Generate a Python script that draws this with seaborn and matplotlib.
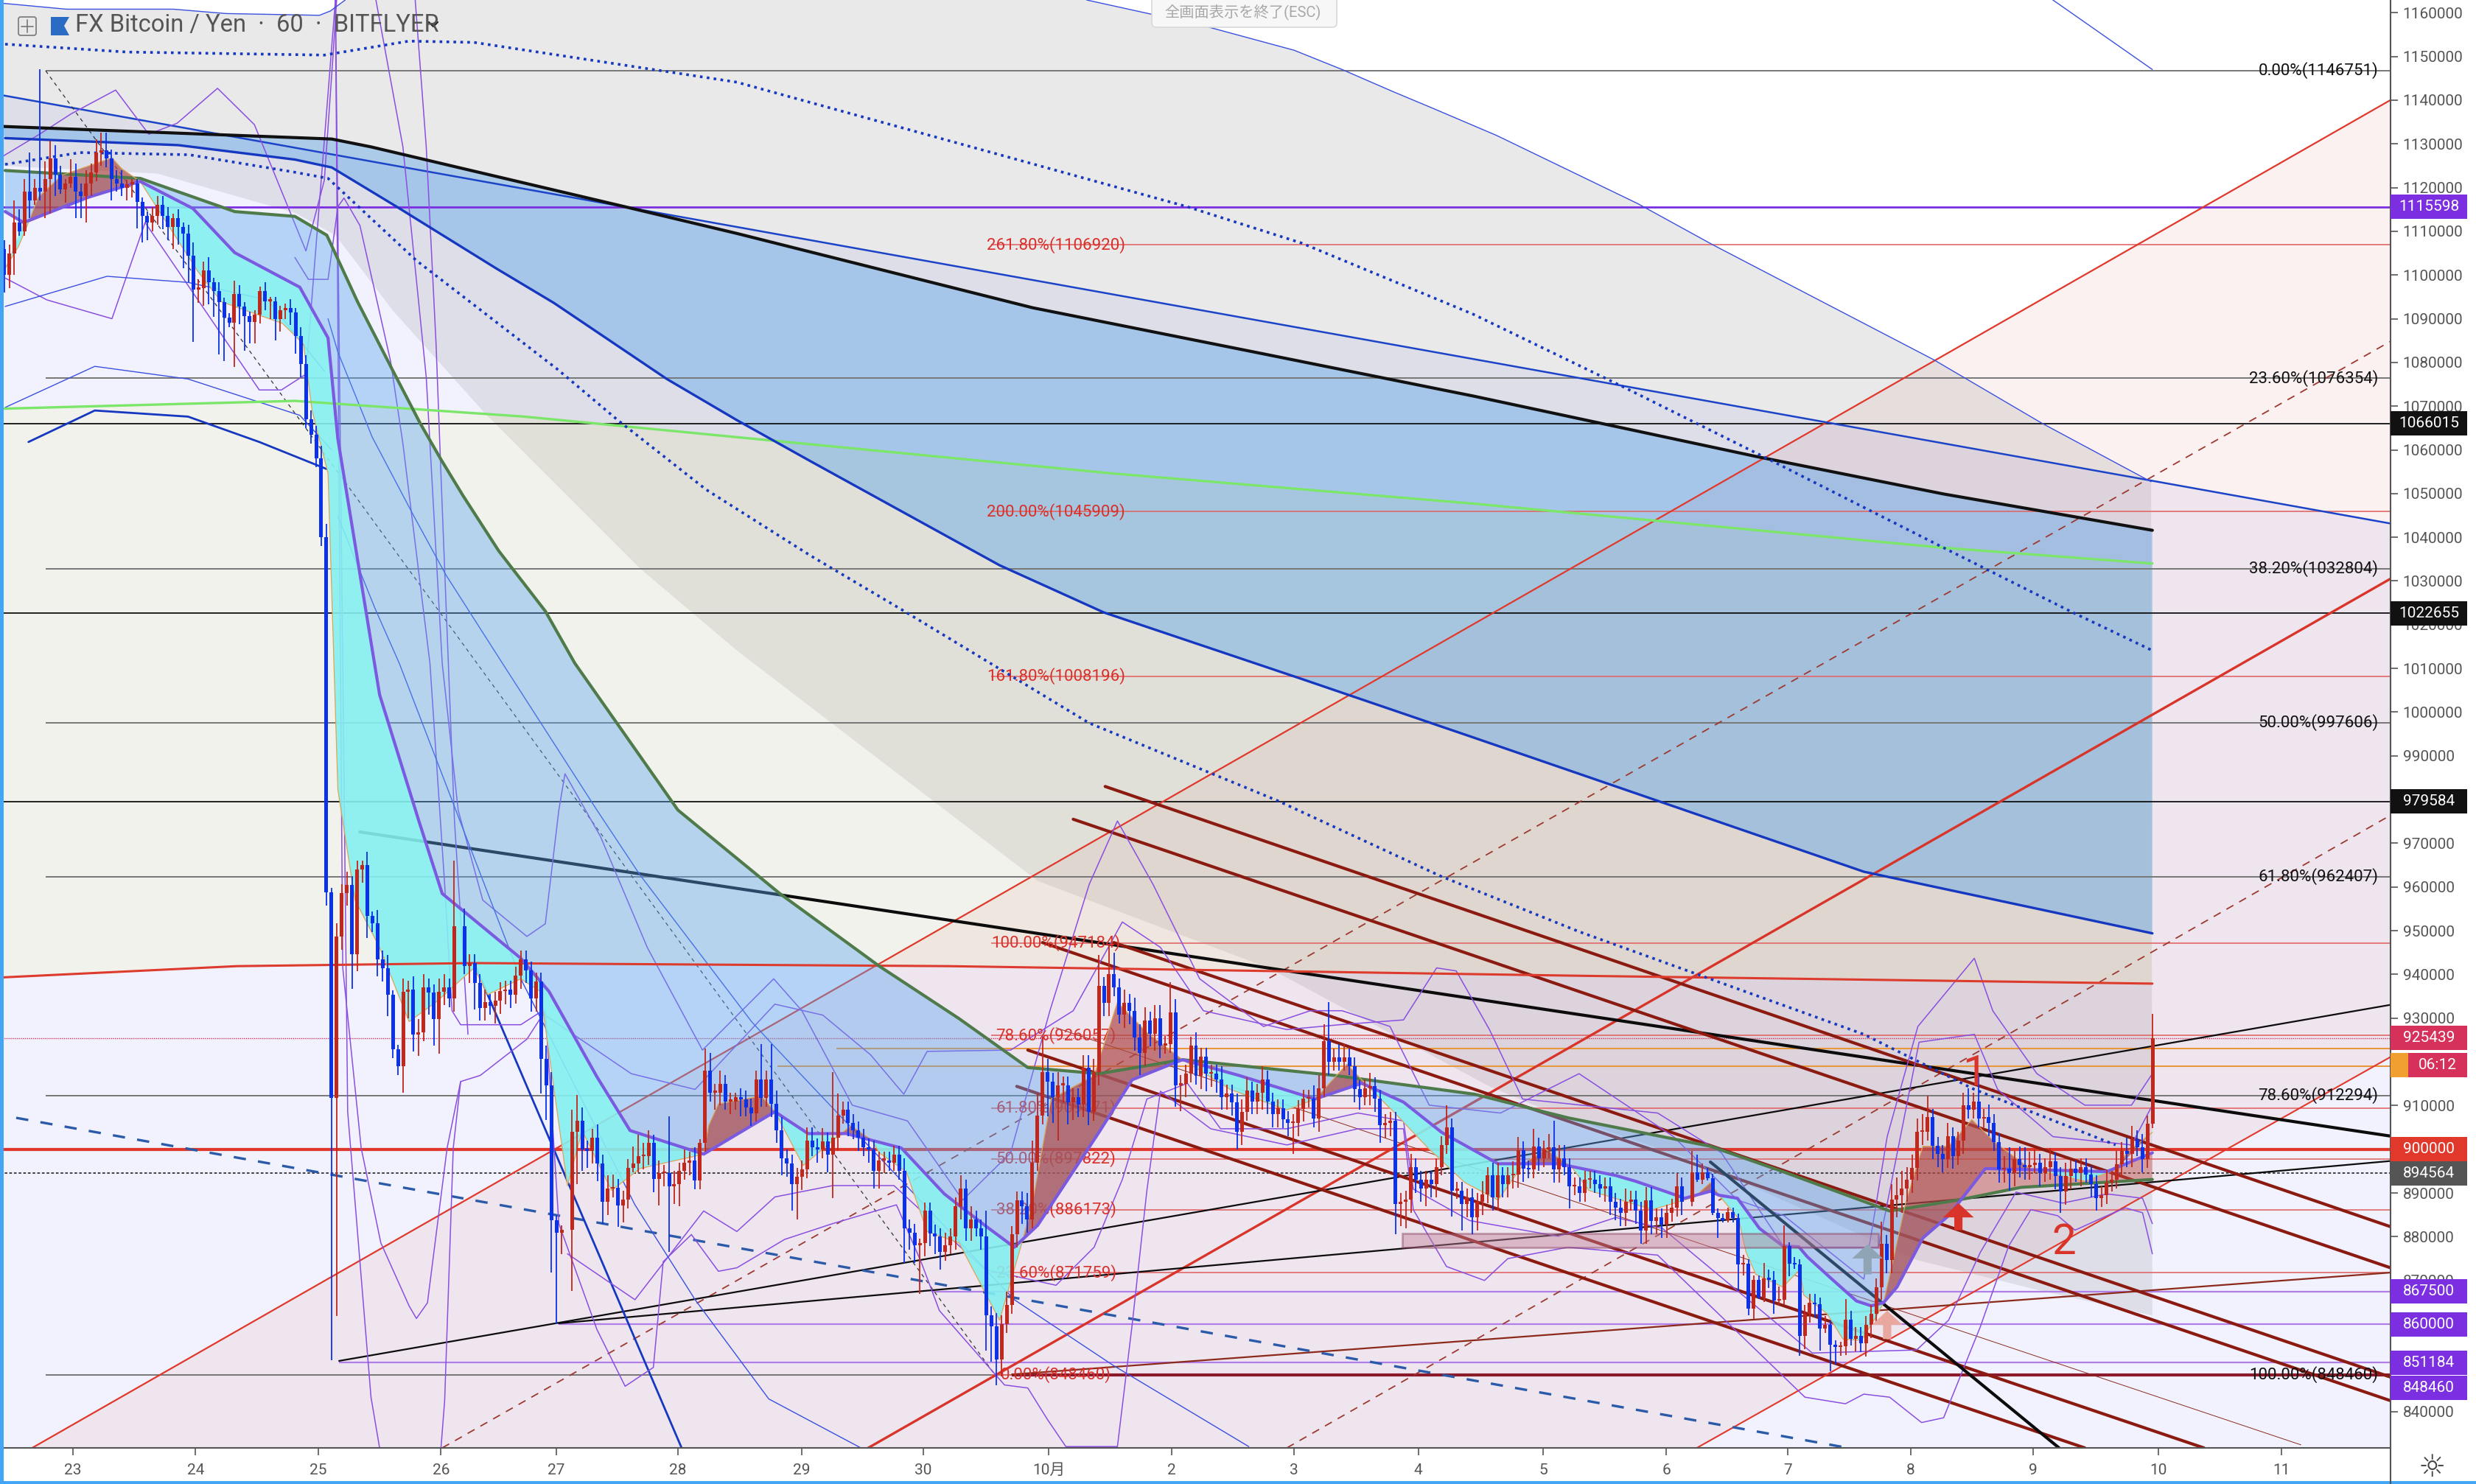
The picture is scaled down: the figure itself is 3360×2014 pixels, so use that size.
#FX Bitcoin / Yen 60 min chart
import numpy as np
import matplotlib
matplotlib.use('Agg')
import matplotlib.pyplot as plt
from matplotlib.patches import Rectangle, Polygon, FancyBboxPatch
from matplotlib.lines import Line2D
from matplotlib.transforms import blended_transform_factory
import seaborn as sns

# x is in days after the 23rd, y is in thousand yen
day_labels = ['23','24','25','26','27','28','29','30','10月','2','3','4','5','6','7','8','9','10','11']
day_ticks = [0,1,2,3,3.94,4.93,5.94,6.93,7.95,8.95,9.95,10.96,11.98,12.98,13.97,14.97,15.97,16.99,17.99]
price_ticks = list(range(840, 1161, 10))
hidden_ticks = [850, 860, 900, 920]

# candles, closes plus wick lengths
close_a1 = [1106,1100,1105,1112,1110,1119,1117,1120,1119,1122,
 1126.7,1123,1119.6,1120.9,1122.5,1119,1118,1121,1123.5,1128,
 1128.5,1126.7,1122,1121,1120,1120.8,1121,1116.7,1113.5,1112,
 1113.5,1116,1113.5,1111,1113,1111,1109.5,1104.4,1096.7,1097,
 1101,1098.3,1096.4,1093.8,1090.3,1089,1095.7,1092.8,1090.6,1089.3,
 1090.9,1096.4,1094,1094,1090,1092,1092.5,1091.5,1086,1079.6,
 1067,1063.5,1058,1040,958.8,911.8,948.7,958.7,960.5,944.7,
 964,965,953.4,951.7,943.5,941.4,935.4,922.9,919,936,
 936.6,926.3,926.8,937,935.8,929.8,936,937,934.5,951]
up_a1 = [2,2,2,5,3,3,9,2,27,4,
 4,3,2,1,4,3,2,3,2,3,
 4,4,2,2,3,1,1,1,1,1,
 2,2,2,2,1,2,1,2,3,2,
 2,3,1,2,1,1,3,2,1,1,
 1,1,2,1,1,1,1,2,1,2,
 2,2,2,3,3,1,3,2,3,2,
 2,1,3,1,3,2,3,1,1,3,
 2,3,3,3,2,2,3,3,2,15]
dn_a1 = [4,4,3,5,1,1,4,1,2,6,
 8,5,1,3,1,6,5,6,3,2,
 3,2,5,2,2,3,3,6,6,4,
 2,2,3,3,5,4,8,6,12,3,
 4,5,6,12,10,1,10,4,8,5,
 5,2,2,4,5,3,2,3,4,3,
 2,2,2,2,3,60,50,3,3,8,
 4,3,5,2,4,3,5,2,2,6,
 6,4,5,2,5,6,8,3,2,3]

close_a2 = [942,942.6,938,932.4,933.6,932.8,934,936.2,936.6,935.4,
 939.7,943.5,941,934.5,938.4,920.7,914.7,883.8,881,881.6]
up_a2 = [4,2,2,2,3,2,2,2,2,2,2,2,2,2,2,2,3,3,1,1]
dn_a2 = [2,4,6,3,3,2,4,3,3,3,2,3,3,3,3,8,8,12,21,5]

close_a3 = [904,906.5,900,899.7,902.7,896.7,888,891,891.2,887.2,
 888.5,895.8,896.7,898.4,898.4,901.4,893.2,894.5,894.5,891.5,
 892,895,897,897.5,892.8,901.4,918,913,913,915,
 911,911,912,911.5,909.6,908.3,916,911.7,916,910.4,
 904.4,898,896.7,892,893.7,895.4,902,900.5,900,901.8,
 898.8,902.7,907.8,909,906,904.4,902.7,900.5,900,895,
 897.5,897.5,897,898.8,895,882,881,878,878.5,885.9,
 880.8,880,876.5,878,880,887]
up_a3 = [5,6,3,2,2,3,2,3,3,2,
 2,2,4,5,3,3,2,3,2,13,
 3,2,3,2,3,1,5,4,2,3,
 2,2,1,2,2,2,2,8,2,8,
 3,3,2,2,2,2,3,3,2,3,
 2,15,5,2,2,2,2,2,2,2,
 2,2,2,2,2,3,2,2,1,2,
 2,2,2,3,2,2]
dn_a3 = [14,12,5,4,3,4,5,3,2,5,
 4,2,1,2,3,2,3,6,3,15,
 4,5,2,3,2,2,2,2,4,3,
 2,3,2,4,2,3,2,2,2,3,
 3,4,3,6,8,3,2,2,3,2,
 4,10,3,2,3,2,3,2,3,4,
 4,3,2,2,2,8,4,4,11,3,
 3,4,4,2,2,3]

close_b = [891,882,884,882,880,862,859.5,852,860,864.4,
 880.5,888.4,887,884,897,907.7,917.7,915.5,912,914.7,
 914.7,910.7,912,910.3,918.6,908.5,917.7,937.4,933.5,940,
 937,930.8,933.5,931.7,925.6,922,929.5,926.5,930,923.8,
 924,931.3,914.7,915,917.3,923.8,916.8,921.2,917.3,917.3,
 916,912,912.8,910.7,904,908.5,913.4,911,913,916,
 911,908,909.4,906.8,906,906,909.3,911.6,911.6,907,
 914,924.7,920,921,920,921,919,913.8,912,914,
 914.5,911.6,905.5,906,906.5,887.5,888,888.5,896,893,
 891,893,892,896,901,905,890.6,890.6,887.5,889,
 884.5,888,889.7,894,889,894,892,894,894.2,899.8,
 895.5,895.4,900.7,898,900,900.5,895.4,898,896,891.5,
 891.5,890,893,893,892,891,891.5,888,886.7,885.5,
 888,888.5,886,881.4,888.4,883.6,884.5,882.7,885.4,886.7,
 891.5,888]
up_b = [3,2,3,2,2,6,2,3,2,3,
 2,2,2,3,5,5,8,3,2,3,
 2,2,2,2,3,3,3,7,2,7,
 5,2,3,2,3,3,3,2,3,3,
 2,7,3,2,2,2,3,2,2,2,
 2,3,2,2,2,3,3,2,2,3,
 2,2,2,2,2,2,2,2,2,3,
 3,4,9,2,3,3,2,2,2,2,
 3,2,2,2,2,2,2,2,3,2,
 2,2,2,2,2,5,2,2,2,2,
 2,2,3,2,3,3,2,2,3,3,
 2,2,4,2,2,3,6,3,3,2,
 2,2,2,2,2,2,2,2,2,2,
 3,2,2,2,3,3,2,2,2,2,
 3,2]
dn_b = [3,3,3,2,3,8,8,6,4,2,
 2,3,4,3,2,2,2,8,6,10,
 4,5,4,3,3,3,2,3,3,3,
 2,2,3,3,3,5,3,3,4,3,
 2,2,5,6,3,2,2,3,4,3,
 3,3,3,3,4,3,2,3,3,4,
 3,3,3,2,3,7,3,3,2,2,
 3,2,3,2,2,2,2,3,3,2,
 4,3,4,3,3,7,5,6,3,3,
 3,4,3,3,2,2,6,2,6,3,
 4,3,3,2,3,3,3,3,3,3,
 3,2,2,3,2,2,3,3,2,5,
 2,2,2,2,2,2,3,3,3,3,
 3,2,3,3,3,3,3,3,3,2,
 2,3]

close_c = [894.7,893,894.7,893.4,885.4,884.3,883.7,885.7,884.3,873.6,873.8,863.5,870.2,866,870.5]
up_c = [5,4,2,1,1,1,1,1,1,1,2,1,1,1,3.5]
dn_c = [1,0.5,1,0.5,0.5,4.5,0.5,0.5,1,6,2.4,1.5,2.3,0.3,1]

close_d = [870.2,865.4,865.6,877.8,873.9,873.6,857.3,862.4,864.9,864.5,
 859,859.8,855.3,854.8,855,861,856.7,857.3,855.6,859.8,
 862.4,868.5,878.4,874.7,888.5,889.5,891,893,895.8,904,
 904,907.3,900.8,899,897.7,903,898.5,902,910,909,
 911,907,907.3,906,901.6,895.4,895.5,894.5,897.7,896.5,
 896,896.5,897,894.6,896,897.3,893.9,890.4,893.9,895.5,
 894.6,896,894.3,892,888.9,889.5,892.3,893,896.6,899.7,
 899,902.3,900.5,897.7,905.8,925.4]
up_d = [2,2,3,4.8,1,1.5,1.3,2,2,2,
 1.5,2,1,1,1,4.7,2,2,2,2,
 2,2,5,2,3.5,4,4,3,3,3,
 4,5,2,2,2,3,2,2,3,4,
 2,6,2,3,2,2,3,5,2,3,
 4,3,3,2,2,3,2,2,3,2,
 2,2,2,2,2,2,3,2,3,2,
 3,3,2,3,2,5.5]
dn_d = [2,3,1,1,3,1,4.5,3,2,3,
 5,1,6,4,2,2,1.5,3,2,3,
 3,2,3,3,3,4,4,3,3,3,
 3,2,3,3,3,2,3,2,3,2,
 2,2,2,3,2,3,3,4,3,3,
 3,3,2,3,2,3,3,5,3,3,
 2,3,2,3,3,2,2,2,2,3,
 3,3,2,3,2,1]
chunk_start = [0, 91, 112, 188, 331, 346]

# moving averages
black_x = [-0.59,2.11,2.43,4.5,5.41,7.82,9.62,11.41,13.71,15.24,16.94]
black_y = [1134,1131.1,1129.3,1115.6,1109.5,1092.5,1082.4,1072.3,1058.5,1049.9,1041.6]
blue_x = [-0.55,0.86,1.81,2.11,2.64,3.45,3.92,4.84,5.41,6.01,7.55,8.4,10.01,11.41,14.59,16.94]
blue_y = [1131.3,1129.7,1126.4,1124.6,1115.6,1101.5,1093.6,1076.2,1066.8,1057.4,1033.6,1022.8,1007.6,994.2,963.5,949.4]
lime_x = [-0.59,1.81,3.68,5.41,8.47,11.41,15.24,16.94]
lime_y = [1069.4,1071.2,1067.6,1062.9,1054.6,1047.7,1037.6,1034]
redma_x = [-0.59,1.34,3.27,7.13,12.27,16.94]
redma_y = [939.3,941.9,942.6,941.9,939.7,937.9]
dot_top_x = [-0.55,0.44,2.05,2.74,3.27,5.41,7.32,9.08,10.01,11.41,12.63,13.79,15.24,16.27,16.94]
dot_top_y = [1152.8,1151,1150.3,1153.5,1153.2,1144.1,1129.3,1115.6,1107.3,1091,1074.4,1058.2,1037.6,1023.1,1014.1]
dot_low_x = [-0.55,0.06,0.95,1.81,2.08,2.8,3.95,4.44,5.16,6.01,6.75,8.28,9.81,11.15,12.27,14.59,15.49,16.64]
dot_low_y = [1125.3,1128,1127.5,1123.5,1122.1,1103.3,1078.4,1066.8,1050.9,1035.8,1023.5,997.5,979.8,962.4,949.8,926.3,913.7,901]
green_x = [-0.55,0.55,1.32,1.81,2.07,2.32,2.61,2.83,3,3.18,3.47,3.85,4.09,4.93,5.76,6.57,7.22,7.78,8.36,9.04,10.28,11.42,12.18,13.34,13.93,14.8,15.36,15.87,16.94]
green_y = [1123.9,1122.1,1114.5,1113.4,1109.1,1093.9,1078,1066.1,1057.8,1049.5,1036.9,1023.1,1011.2,977.6,958.5,941.9,929.9,918.7,917.3,920.5,916.9,912.6,907.2,900.7,894.9,885.9,888.4,891.3,893.1]
slow_x = [-0.55,-0.4,0.13,0.55,0.98,1.32,1.85,2.08,2.16,2.5,2.82,3.01,3.65,3.88,4.27,4.54,5.14,5.72,5.99,6.3,6.75,7.1,7.43,7.67,7.86,8.36,8.63,9.04,9.5,10.12,10.5,10.84,11.15,11.61,12.1,12.57,12.73,12.99,13.13,13.34,13.41,13.56,13.74,13.93,14.06,14.13,14.33,14.53,14.65,14.75,14.86,15.07,15.28,15.58,16.01,16.57,16.94]
slow_y = [1114.5,1112,1117.8,1121.4,1115.2,1105.1,1097.2,1085.6,1062.5,1004,975.1,958.5,943.7,936.1,916.6,904.3,898.9,908.6,903.6,903.6,900.3,889.8,882.6,877.6,882.6,903.9,915.9,920.5,916.9,911.5,915.1,910.8,903.9,896.7,896.7,894,892.7,890.2,888.8,890.4,889.5,888.8,881.9,877.9,877.7,875.4,870.3,865.3,864.2,864.9,868.5,879.7,884.8,895.6,895.3,894.9,899.2]
fast_x = [-0.55,-0.44,-0.36,-0.28,-0.09,0.32,0.4,0.55,1.02,1.21,1.71,1.88,1.95,2.08,2.16,2.3,2.5,2.74,2.97,3.27,3.38,3.65,3.81,4.03,4.15,4.39,4.62,5.14,5.18,5.26,5.61,5.72,5.95,6.23,6.34,6.51,6.57,6.79,6.96,7.22,7.55,7.74,7.82,7.97,8.32,8.51,8.75,9.04,9.43,9.89,10.12,10.38,10.55,10.77,11.04,11.34,11.61,11.82,12,12.21,12.35,12.87,13.21,13.34,13.41,13.57,13.63,13.71,13.93,14.07,14.1,14.29,14.42,14.57,14.69,14.75,14.82,14.93,15.07,15.28,15.47,15.65,15.94,16.39,16.64,16.73,16.94]
fast_y = [1101.5,1106.6,1112,1117.8,1122.8,1126.8,1124.3,1121.4,1100.8,1093.9,1088.9,1084.2,1069,1054.6,982.3,957,946.2,929.2,933.9,941.5,935.4,939,936.1,891.7,904.3,890.6,895.6,898.9,905.4,910.4,912.2,908.6,896.3,902.9,905.4,902.1,899.2,894.9,881.2,878.6,860.9,879.4,888,911.5,916.9,933.6,926.7,920.5,913.7,909,911.5,919.5,914.4,908.3,900.3,892.4,888.4,896.7,900,896,890.6,886.2,889.1,892.4,889.5,884.1,876.5,871.4,868.5,872.5,866.7,862.4,856.6,856.3,861.7,864.9,873.6,887.7,900.7,900.7,906.8,901.8,895.6,892.7,895.3,899.2,903.9]
fast_cross = [-0.55,-0.36,0.55,5.14,5.72,6.23,6.51,7.74,9.04,10.12,10.55,11.82,12.21,13.21,13.41,14.75,15.94,16.64,16.94]
ribbon_cross = 15.36

# bollinger style thin curves
bb_a_x = [-0.59,-0.27,-0.01,0.35,0.62,0.85,1.18,1.48,1.9,2.05,2.12,2.15]
bb_a_y = [1126.8,1132.2,1136.9,1142.3,1132.2,1134.7,1142.7,1134.4,1105.5,1121.7,1149.9,1162.9]
bb_b_x = [2.47,2.69,2.88,3.01,3.14,3.34,3.7,3.85,3.96,4.01,4.3,4.68,5.13,5.71,5.94,6.35,6.8,7.25,7.64,7.96,8.28,8.51,8.8,9.18,9.7,10.08,10.34,10.73,11.05,11.63,12.27,13.04,13.56,13.94,14.59,14.78,15.03,15.49,15.64,16,16.39,16.77,16.94]
bb_b_y = [1162.9,1129.3,1076.6,1011.2,977.6,957,948.7,951.6,977.6,985.9,971.5,946.2,922.7,939,931.7,910.1,906.5,888.4,899.2,931.7,960.6,975.1,960.6,939,928.1,931.7,931.7,928.1,910.1,908.3,917.3,902.9,888.4,884.8,870.3,902.9,928.1,943.7,931.7,917.3,910.1,910.1,917.3]
bb_c_x = [1.81,1.92,2.08,2.16,2.21,2.34,2.48,2.59,2.69,2.91,3.03,3.09,3.16,3.65,3.81,4.55,5.07,5.72,6.11,6.5,6.77,6.96,7.64,8.15,8.55,8.86,9.21,9.89,10.32,10.84,11.11,11.27,11.54,11.81,12.91,13.43,13.94,14.71,15.04,15.49,15.68,16.13,16.77,16.94]
bb_c_y = [1104,1099,1099,1115.6,1117.6,1111.3,1093.9,1080.2,1061.4,1011.2,960.6,931.7,928.5,928.5,931.4,917.3,913.7,933.2,930.7,921.6,912.6,922.4,922.7,931.7,952,946.2,931.7,927.4,928.5,929.6,941.5,940.8,927.4,911.5,908.3,899.2,877.6,877.6,924.5,926.3,913.7,902.9,901,910.1]
bb_d_x = [4.03,4.58,5.14,5.41,5.72,6.19,6.69,7.43,8.01,8.32,8.55,8.75,9.08,9.35,9.89,10.47,10.84,10.92,11.38,12.1,12.57,12.95,14.17,15.02,15.28,15.54,15.83,16.21,16.57,16.86,16.94]
bb_d_y = [876.1,865.6,885.9,881.2,889.1,891.7,891.7,872.5,868.9,877.6,893.1,911.5,915.1,904.7,904.7,908.3,906.5,890.9,883.7,880.1,884.4,881.9,853.4,854.1,860.9,876.5,890.2,887.7,889.8,888.8,883]
bb_e_x = [2.14,2.2,2.35,2.51,2.74,2.8,2.89,3.05,3.16,3.32,3.7,3.85,3.96,4.27,4.5,4.73,4.81,5.04,5.26,5.41,5.8,6.19,6.71,6.91,7.06,7.59,7.78,7.94,8.09,8.51,8.63,8.75,8.86,9.27,9.89,10.47,10.84,10.92,11.19,11.5,11.69,12.18,12.91,14.11,14.44,14.59,14.8,15.06,15.24,15.54,15.77,15.95,16.17,16.31,16.57,16.72,16.86,16.94]
bb_e_y = [1162.9,941.5,900.3,878.6,864.2,861.3,864.9,900.3,915.5,916.9,925.2,931.7,883,858.8,845.8,850.1,874.3,880.5,872.1,872.9,879.4,883,887.3,874.3,863.1,846.1,845.4,838.2,832,832,859.9,890.6,913.3,904.7,901,904.7,904.7,886.2,873.2,870,875,877.6,875.8,843.3,841.8,844,843.3,837.5,838.6,859.5,877.9,886.2,884.8,881.5,884.8,886.6,885.5,876.1]
bb_f_x = [-0.55,-0.21,0.32,0.59,1.02,1.52,1.7,1.9,2.14]
bb_f_y = [1099.3,1094.3,1090,1112,1094.3,1073.7,1073.7,1077.3,1162.9]
bb_h_x = [2.79,2.88,2.96,3,3.06,3.11,3.22]
bb_h_y = [1162.9,1129.3,1084.2,1054.2,1011.2,975.1,926.3]
bb_i_x = [3,3.03,3.1,3.16]
bb_i_y = [831.7,842.5,900.3,915.5]
bb_j_x = [2.14,2.24,2.43,2.5]
bb_j_y = [1162.9,908.6,843.3,831.7]
thin_a_x = [-0.55,0.28,0.94,1.59,2.05]
thin_a_y = [1092.8,1099.7,1098.3,1094.3,1078]
thin_b_x = [-0.55,0.18,0.94,1.85,2.11]
thin_b_y = [1069.7,1079.1,1076.2,1067.9,1060]
thick_c_x = [-0.36,0.18,0.94,1.52,2.07]
thick_c_y = [1061.8,1069,1067.6,1061.8,1055.6]
thin_d_x = [2.08,2.16,2.44,2.78,3.04,3.5,4.27,4.62,5.53,5.72,7.67,8.48,9.58]
thin_d_y = [1090,1082.4,1062.9,1044.8,1031.4,1011.2,977.6,962.8,929.2,923.4,865.6,850.5,832]
thin_e_x = [2.16,2.46,2.66,3.65,4.58,5.07,5.67,6.42]
thin_e_y = [1044.8,1023.9,1011.2,939,887.3,865.6,842.9,831.7]
thin_f_x = [16.13,16.94]
thin_f_y = [1162.9,1147]

# shaded gray area, its top edge is the thin blue curve
gray_top_lx = [-0.59,-0.05,0.82,1.25,2.01,2.1,2.22]
gray_top_ly = [1162.2,1160.8,1160.8,1159.8,1159.4,1160.4,1162.9]
gray_top_rx = [8.26,9.2,9.95,10.34,10.75,11.09,11.6,12.75,13.36,15.16,16.04,16.93]
gray_top_ry = [1162.9,1157.1,1151.4,1147,1142,1138,1131.9,1116.3,1106.9,1080.6,1066.1,1052.7]
gray_low_x = [16.94,16.01,15.02,13.21,12,11.54,9.74,7.86,5.41,4.62,3.36,2.61,2.14,1.81,0.69,-0.59]
gray_low_y = [862,867.8,874.7,897.4,909,914.4,941.5,961.4,1014.1,1032.9,1068.3,1091.8,1109.1,1114.2,1123.2,1125]

# straight lines as (x0, y0, x1, y1)
fork_top = (-0.33, 831.7, 18.91, 1140.5)
fork_mid = (6.48, 831.7, 18.91, 1031)
fork_low = (13.23, 831.7, 18.91, 921.6)
fork_dash_a = (3.01, 831.7, 18.91, 1085.3)
fork_dash_b = (9.89, 831.7, 18.91, 976.9)
blue_trend = (-0.59, 1141.2, 18.91, 1043)
black_trend = (2.34, 972.6, 18.91, 902.9)
black_thin_a = (2.17, 851.6, 18.91, 933.2)
black_thin_b = (3.96, 860.2, 18.91, 897.4)
black_short = (13.34, 897.1, 16.18, 831.7)
brown_rise = (7.65, 848.5, 18.88, 871.8)
brown_thin = (8.01, 927.8, 18.15, 832.4)
channels = [(8.41,983,18.88,882.3),(8.15,975.5,18.88,872.9),(8.48,947.3,18.88,847.9),
            (7.9,947.3,18.88,842.5),(7.78,922.7,17.36,831.7),(7.69,914.4,16.39,831.7)]
blue_dash = (-0.46, 907.2, 14.46, 831.7)
fib_dash = (-0.22, 1146.7, 7.51, 848.5)
blue_fall = (3.27, 942.6, 4.96, 831.7)

# levels
fib_black = [1146.751,1076.354,1032.804,997.606,962.407,912.294,848.46]
fib_black_txt = ['0.00%(1146751)','23.60%(1076354)','38.20%(1032804)','50.00%(997606)','61.80%(962407)','78.60%(912294)','100.00%(848460)']
fib_red = [1106.92,1045.909,1008.196,947.184,926.057,909.471,897.822,886.173,871.759,848.46]
fib_red_txt = ['261.80%(1106920)','200.00%(1045909)','161.80%(1008196)','100.00%(947184)','78.60%(926057)','61.80%(909471)','50.00%(897822)','38.20%(886173)','23.60%(871759)','0.00%(848460)']
black_levels = [1066.015,1022.655,979.584]
purple_levels = [867.5,860,851.184]
purple_starts = [7.0,3.96,2.17]
orange_levels = [923.1,919]
orange_starts = [6.22,5.74]
badge_vals = [1115.598,1066.015,1022.655,979.584,900,894.564,867.5,860,851.184,845.5]
badge_cols = ['#7b2fe0','#111111','#111111','#111111','#e0392b','#555555','#7b2fe0','#7b2fe0','#7b2fe0','#7b2fe0']
badge_txt = ['1115598','1066015','1022655','979584','900000','894564','867500','860000','851184','848460']

XMIN, XMAX = -0.592, 18.88
YMIN, YMAX = 831.7, 1162.9

sns.set_theme(style='white')
plt.rcParams['font.family'] = ['Roboto', 'Noto Sans CJK JP', 'DejaVu Sans']

fig = plt.figure(figsize=(33.6, 20.14), dpi=100, facecolor='white')
ax = fig.add_axes([0, 49/2014, 3244/3360, 1965/2014])
ax.set_facecolor('#f2f2fe')


def line(xs, ys, color, lw, z=2, **kw):
    sns.lineplot(x=xs, y=ys, ax=ax, color=color, linewidth=lw, estimator=None,
                 sort=False, zorder=z, legend=False, **kw)


def seg(s, color, lw, z=2, **kw):
    line([s[0], s[2]], [s[1], s[3]], color, lw, z, **kw)


def poly(xs, ys, color, alpha, z):
    ax.fill(xs, ys, color=color, alpha=alpha, lw=0, zorder=z)


# backgrounds, white above the blue trend line
poly([blue_trend[0], blue_trend[2], blue_trend[2], blue_trend[0]],
     [blue_trend[1], blue_trend[3], YMAX, YMAX], 'white', 1, 1)
poly([fork_top[0], fork_top[2], fork_low[2], fork_low[0]],
     [fork_top[1], fork_top[3], fork_low[3], fork_low[1]], '#de7a72', 0.1, 1.1)
poly(np.r_[gray_top_lx, gray_top_rx, gray_low_x], np.r_[gray_top_ly, gray_top_ry, gray_low_y], '#808080', 0.17, 1.2)
poly(np.r_[lime_x, redma_x[::-1]], np.r_[lime_y, redma_y[::-1]], '#faf25e', 0.1, 1.3)
poly(np.r_[black_x, blue_x[::-1]], np.r_[black_y, blue_y[::-1]], '#50a0eb', 0.4, 1.4)

# horizontal levels
ax.hlines(fib_black, -0.22, XMAX, color='#777777', lw=1.4, zorder=1.8)
ax.hlines(fib_red, 7.48, XMAX, color='#e06868', lw=1.2, zorder=1.8)
ax.hlines(black_levels, XMIN, XMAX, color='#111111', lw=1.3, zorder=1.9)
ax.hlines(1115.598, XMIN, XMAX, color='#7b2fe0', lw=2, zorder=1.9)
for lv, st in zip(purple_levels, purple_starts):
    ax.hlines(lv, st, XMAX, color='#b07ee8', lw=1.6, zorder=1.9)
for lv, st in zip(orange_levels, orange_starts):
    ax.hlines(lv, st, XMAX, color='#e8973a', lw=1.5, zorder=1.9)
ax.hlines(925.439, XMIN, XMAX, color='#d6315a', lw=1, linestyles=(0, (1, 1)), zorder=1.9)
ax.hlines(894.564, XMIN, XMAX, color='#333333', lw=1.3, linestyles=(0, (2, 1.5)), zorder=1.9)
ax.hlines(900, XMIN, XMAX, color='#e0392b', lw=3, zorder=2)
ax.hlines(848.46, 7.65, XMAX, color='#8b1a2a', lw=3, zorder=2)

# straight lines
seg(fork_top, '#e0392b', 1.6)
seg(fork_mid, '#d9342a', 2.4)
seg(fork_low, '#e0392b', 1.5)
seg(fork_dash_a, '#9c3a30', 1.3, linestyle=(0, (6, 5)))
seg(fork_dash_b, '#9c3a30', 1.3, linestyle=(0, (6, 5)))
seg(blue_trend, '#1b44c8', 1.8)
seg(black_trend, '#0c0c0c', 3)
seg(black_thin_a, '#0c0c0c', 1.6)
seg(black_thin_b, '#0c0c0c', 1.6)
seg(black_short, '#0c0c0c', 3, 2.4)
seg(brown_rise, '#8b2a1a', 1.6)
seg(brown_thin, '#8b2a1a', 0.7)
for c in channels:
    seg(c, '#8b1a10', 3)
seg(blue_dash, '#2a5aa8', 2.4, linestyle=(0, (5, 5)))
seg(fib_dash, '#333333', 0.9, linestyle=(0, (4, 4)))
seg(blue_fall, '#1638c0', 2)

# thin curves
for xs, ys in [(bb_a_x, bb_a_y), (bb_b_x, bb_b_y), (bb_c_x, bb_c_y), (bb_d_x, bb_d_y),
               (bb_e_x, bb_e_y), (bb_f_x, bb_f_y), (bb_h_x, bb_h_y), (bb_i_x, bb_i_y), (bb_j_x, bb_j_y)]:
    line(xs, ys, '#8a4fe0', 1.1, 2.2)
for xs, ys in [(thin_a_x, thin_a_y), (thin_b_x, thin_b_y), (thin_d_x, thin_d_y), (thin_e_x, thin_e_y),
               (thin_f_x, thin_f_y), (gray_top_lx, gray_top_ly), (gray_top_rx, gray_top_ry)]:
    line(xs, ys, '#3a50e0', 1, 2.2)
line(thick_c_x, thick_c_y, '#1638c0', 2, 2.2)

# red fib labels stay under the ribbons
for lv, t in zip(fib_red, fib_red_txt):
    ax.text(8.01, lv, t, color='#d8302a', fontsize=16, ha='center', va='center', zorder=2.5)

# ribbons
sx, sy = np.array(slow_x), np.array(slow_y)
gx, gy = np.array(green_x), np.array(green_y)
fx, fy = np.array(fast_x), np.array(fast_y)
m = sx <= ribbon_cross
n = gx <= ribbon_cross
poly(np.r_[sx[m], gx[n][::-1]], np.r_[sy[m], gy[n][::-1]], '#5aa5ee', 0.4, 3)
m = sx > ribbon_cross
n = gx >= ribbon_cross
poly(np.r_[sx[m], gx[n][::-1]], np.r_[sy[m], gy[n][::-1]], '#c8504a', 0.4, 3)
for k in range(len(fast_cross) - 1):
    a, b = fast_cross[k], fast_cross[k + 1]
    m = (fx >= a) & (fx <= b)
    n = (sx > a) & (sx < b)
    if k % 2 == 0:
        poly(np.r_[fx[m], sx[n][::-1]], np.r_[fy[m], sy[n][::-1]], '#84f0f0', 0.9, 3.1)
    else:
        poly(np.r_[fx[m], sx[n][::-1]], np.r_[fy[m], sy[n][::-1]], '#b04a48', 0.7, 3.1)

# moving average lines
line(lime_x, lime_y, '#7be66a', 2.4, 3.2)
line(redma_x, redma_y, '#dd3b2d', 2.2, 3.2)
line(black_x, black_y, '#111111', 3, 3.2)
line(blue_x, blue_y, '#1638c0', 2.4, 3.2)
for xs, ys in [(dot_top_x, dot_top_y), (dot_low_x, dot_low_y)]:
    line(xs, ys, '#1638c0', 2.6, 3.2, linestyle=(0, (1, 1.6)))
line(green_x, green_y, '#4f7a4a', 3, 3.2)
line(fast_x, fast_y, '#d9a65a', 0.9, 3.2)
line(slow_x, slow_y, '#7a5ae0', 3, 3.3)

# candles
closes = [close_a1, close_a2, close_a3, close_b, close_c, close_d]
ups = [up_a1, up_a2, up_a3, up_b, up_c, up_d]
dns = [dn_a1, dn_a2, dn_a3, dn_b, dn_c, dn_d]
bars = np.concatenate([st + np.arange(len(c)) for st, c in zip(chunk_start, closes)])
c_all = np.concatenate(closes)
u_all = np.concatenate(ups)
d_all = np.concatenate(dns)
o_all = np.r_[1104, c_all[:-1]]
x_all = (bars - 14.4) / 24
top = np.maximum(o_all, c_all)
bot = np.minimum(o_all, c_all)
rising = c_all >= o_all
for mask, col in [(rising, '#c0271d'), (~rising, '#0b32e8')]:
    ax.vlines(x_all[mask], bot[mask] - d_all[mask], top[mask] + u_all[mask], color=col, lw=1.3, zorder=4)
    ax.bar(x_all[mask], np.maximum(top[mask] - bot[mask], 0.4), bottom=bot[mask], width=0.03,
           color=col, linewidth=0, zorder=4.1)

# zone box and marks
ax.add_patch(Rectangle((10.83, 877.6), 3.88, 3.2, fc='#c08098', ec='#8a4060', alpha=0.45, lw=2, zorder=3.5))
for x0, y0, y1, col in [(15.36, 881.5, 887.7, '#d9342a'), (14.62, 871.4, 878.3, '#8fa5b5'), (14.78, 856.6, 863.1, '#e8a8a0')]:
    ax.annotate('', xy=(x0, y1), xytext=(x0, y0), zorder=5,
                arrowprops=dict(width=8, headwidth=30, headlength=14, color=col, lw=0, shrink=0))
ax.text(15.49, 917.3, '1', color='#d9342a', fontsize=42, ha='center', va='center', zorder=5)
ax.text(16.22, 878.6, '2', color='#d9342a', fontsize=42, ha='center', va='center', zorder=5)

# black fib labels
for lv, t in zip(fib_black, fib_black_txt):
    ax.text(18.78, lv, t, color='#111111', fontsize=16, ha='right', va='center', zorder=6)

# axes
ax.set_xlim(XMIN, XMAX)
ax.set_ylim(YMIN, YMAX)
ax.set_xlabel('')
ax.set_ylabel('')
ax.yaxis.tick_right()
ax.set_yticks(price_ticks)
ax.set_yticklabels(['' if p in hidden_ticks else str(p * 1000) for p in price_ticks])
ax.set_xticks(day_ticks)
ax.set_xticklabels(day_labels)
ax.tick_params(axis='y', length=7, width=1.2, color='#555555', labelcolor='#555555', labelsize=15, pad=5, right=True)
ax.tick_params(axis='x', length=7, width=1.2, color='#555555', labelcolor='#555555', labelsize=15, pad=8, bottom=True)
for s in ['left', 'top']:
    ax.spines[s].set_visible(False)
for s in ['right', 'bottom']:
    ax.spines[s].set_color('#555555')
    ax.spines[s].set_linewidth(1.5)

# price badges at the right
tr = blended_transform_factory(ax.transAxes, ax.transData)
bx, bw, bh = 1.0, 104 / 3244, 5.56
for v, col, t in zip(badge_vals, badge_cols, badge_txt):
    ax.add_patch(Rectangle((bx, v - bh / 2), bw, bh, transform=tr, fc=col, lw=0, clip_on=False, zorder=10))
    ax.text(bx + bw / 2, v, t, transform=tr, color='white', fontsize=15, ha='center', va='center', zorder=11)
ax.add_patch(Rectangle((bx, 919.3 - bh / 2), bw, bh, transform=tr, fc='#f0a030', lw=0, clip_on=False, zorder=10))
ax.add_patch(Rectangle((bx, 925.439 - bh / 2), bw, bh, transform=tr, fc='#d6315a', lw=0, clip_on=False, zorder=10))
ax.add_patch(Rectangle((1.0074, 919.3 - bh / 2), bw - 0.0074, bh, transform=tr, fc='#d6315a', lw=0, clip_on=False, zorder=10.5))
ax.text(bx + bw / 2, 925.439, '925439', transform=tr, color='white', fontsize=15, ha='center', va='center', zorder=11)
ax.text(1.0074 + (bw - 0.0074) / 2, 919.3, '06:12', transform=tr, color='white', fontsize=15, ha='center', va='center', zorder=11)

# header and frame, pixels of the figure
W, H = 3360.0, 2014.0
ax2 = fig.add_axes([0, 0, 1, 1], facecolor='none')
ax2.set_xlim(0, W)
ax2.set_ylim(H, 0)
ax2.axis('off')
ax2.text(102, 34, 'FX Bitcoin / Yen  ·  60  ·  BITFLYER', color='#555555', fontsize=23.5, va='center', ha='left')
ax2.add_patch(FancyBboxPatch((25, 23), 24, 25, boxstyle='round,pad=0,rounding_size=3', fc='none', ec='#777777', lw=1.2))
ax2.add_line(Line2D([37, 37], [27, 44], color='#777777', lw=1.2))
ax2.add_line(Line2D([29, 45], [35.5, 35.5], color='#777777', lw=1.2))
ax2.add_patch(Polygon([(69, 23), (94, 23), (87, 35), (94, 48), (69, 48)], fc='#2a6bc4', lw=0))
ax2.add_line(Line2D([582, 588, 594], [30, 36, 30], color='#222222', lw=1.6))
ax2.add_patch(FancyBboxPatch((1563, -12), 251, 49, boxstyle='round,pad=0,rounding_size=6', fc='#f7f7f7', ec='#d8d8d8', lw=1.2))
ax2.text(1686, 16, '全画面表示を終了(ESC)', color='#a8a8a8', fontsize=14.6, ha='center', va='center')
ax2.add_patch(Rectangle((0, 0), 5, H, fc='#42a5f5', lw=0))
ax2.add_patch(Rectangle((0, H - 4), W, 4, fc='#42a5f5', lw=0))
ax2.add_line(Line2D([3244, 3244], [1965, H], color='#555555', lw=1.5))
ax2.text(3300, 1992, '☼', color='#444444', fontsize=30, ha='center', va='center', family='DejaVu Sans')

fig.savefig('out.png', dpi=100)
